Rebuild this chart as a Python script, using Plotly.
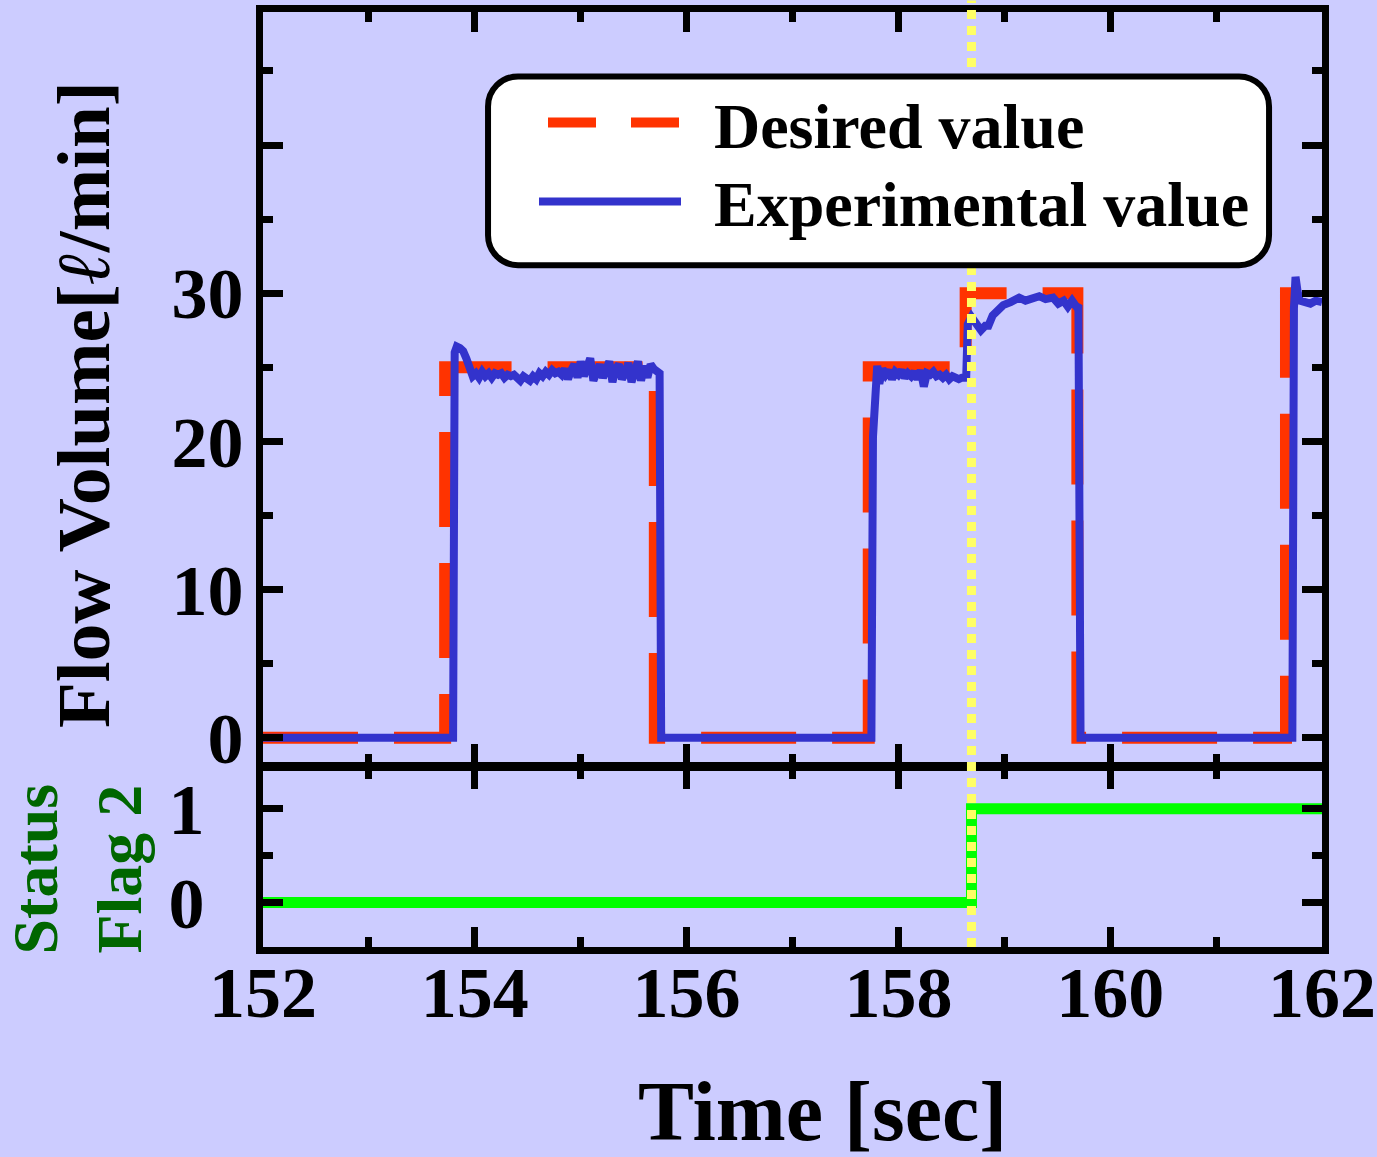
import plotly.graph_objects as go

# ---- data -------------------------------------------------------------
# Desired flow set-point (step profile)
desired_time = [152.00, 153.72, 153.72, 155.70, 155.70, 157.72, 157.72,
                158.635, 158.635, 159.69, 159.69, 161.66, 161.66, 162.00]
desired_flow = [0, 0, 25, 25, 0, 0, 25, 25, 30, 30, 0, 0, 30, 30]

# Measured flow
exp_time = [
    152.00, 153.795, 153.81, 153.83, 153.86, 153.89, 153.92, 153.95,
    153.98, 154.01, 154.04, 154.07, 154.10, 154.13, 154.16, 154.19, 154.22,
    154.25, 154.28, 154.31, 154.34, 154.37, 154.40, 154.43, 154.46, 154.49,
    154.52, 154.55, 154.58, 154.61, 154.64, 154.67, 154.70, 154.73, 154.76,
    154.79, 154.82, 154.85, 154.88, 154.91, 154.94, 154.97, 155.00, 155.03,
    155.06, 155.09, 155.12, 155.15, 155.18, 155.21, 155.24, 155.27, 155.30,
    155.33, 155.36, 155.39, 155.42, 155.45, 155.48, 155.51, 155.54, 155.57,
    155.60, 155.63, 155.66, 155.69, 155.72, 155.745, 155.76,
    157.745, 157.76, 157.785, 157.80, 157.82, 157.85, 157.88, 157.91, 157.94,
    157.97, 158.00, 158.03, 158.06, 158.09, 158.12, 158.15, 158.18, 158.21,
    158.24, 158.27, 158.30, 158.33, 158.36, 158.39, 158.42, 158.45, 158.48,
    158.51, 158.54, 158.57, 158.60, 158.64, 158.655, 158.69, 158.73, 158.78,
    158.82, 158.85, 158.89, 158.95, 158.99, 159.06, 159.14, 159.20, 159.27,
    159.33, 159.39, 159.46, 159.51, 159.56, 159.60, 159.64, 159.68, 159.70,
    159.72,
    161.72, 161.735, 161.75, 161.77, 161.79, 161.84, 161.89, 161.94, 161.97,
    162.00,
]
exp_flow = [
    0, 0, 26.0, 26.4, 26.3, 26.1, 25.6, 25.0,
    24.4, 24.6, 24.3, 24.7, 24.4, 24.6, 24.3, 24.6, 24.5,
    24.6, 24.3, 24.5, 24.4, 24.5, 24.2, 24.1, 24.4, 24.3,
    24.1, 24.4, 24.2, 24.6, 24.4, 24.7, 24.5, 24.8, 24.6,
    24.7, 24.5, 24.9, 24.2, 24.8, 25.2, 24.3, 25.4, 24.4,
    24.9, 25.6, 24.1, 24.7, 25.2, 24.3, 24.8, 25.4, 24.0,
    24.9, 25.2, 24.2, 24.6, 25.3, 24.0, 24.9, 25.4, 24.1,
    25.1, 24.3, 25.2, 24.9, 24.8, 24.6, 0,
    0, 20.3, 24.5, 25.1, 23.9, 24.9, 24.5, 24.8, 24.2,
    24.7, 24.5, 24.8, 24.3, 24.6, 24.4, 24.7, 24.2, 24.8,
    23.7, 24.6, 24.5, 24.7, 24.4, 24.5, 24.3, 24.5, 24.2,
    24.4, 24.3, 24.2, 24.3, 24.3, 27.9, 28.4, 28.0, 27.5,
    27.8, 27.8, 28.5, 28.9, 29.2, 29.4, 29.7, 29.5, 29.7,
    29.8, 29.6, 29.7, 29.3, 29.5, 29.1, 29.5, 29.1, 29.2,
    0,
    0, 29.0, 31.1, 30.1, 29.5, 29.4, 29.3, 29.5, 29.4,
    29.4,
]

# Status flag 2
flag_time = [152.00, 158.69, 158.69, 162.00]
flag_value = [0, 0, 1, 1]

event_time = 158.69

x_ticks = [152, 154, 156, 158, 160, 162]
flow_ticks = [0, 10, 20, 30, 40]
flow_ticktext = ["0", "10", "20", "30", ""]
flag_ticks = [0, 1]

# ---- styling ----------------------------------------------------------
BG = "#ccccff"
RED = "#ff3300"
BLUE = "#3333cc"
GREEN = "#00ff00"
DARK_GREEN = "#006600"
FONT = "Liberation Serif"

fig = go.Figure()

fig.add_trace(go.Scatter(
    x=desired_time, y=desired_flow, mode="lines", name="Desired value",
    line=dict(color=RED, width=12, dash="95px,36px"),
    showlegend=False, xaxis="x", yaxis="y",
))
fig.add_trace(go.Scatter(
    x=exp_time, y=exp_flow, mode="lines", name="Experimental value",
    line=dict(color=BLUE, width=8),
    showlegend=False, xaxis="x", yaxis="y",
))
# legend entries (one legend box per row)
fig.add_trace(go.Scatter(
    x=[None], y=[None], mode="lines", name="Desired value",
    line=dict(color=RED, width=12, dash="0px,9px,48px,35px,48px,300px"),
    xaxis="x", yaxis="y", legend="legend",
))
fig.add_trace(go.Scatter(
    x=[None], y=[None], mode="lines", name="Experimental value",
    line=dict(color=BLUE, width=8, dash="142px,300px"),
    xaxis="x", yaxis="y", legend="legend2",
))
fig.add_trace(go.Scatter(
    x=flag_time, y=flag_value, mode="lines", name="Status Flag 2",
    line=dict(color=GREEN, width=11), showlegend=False,
    xaxis="x2", yaxis="y2",
))

tick_font = dict(family=FONT, size=72, color="black", weight="bold")

axis_common = dict(
    showline=True, linewidth=7, linecolor="black", mirror="ticks",
    ticks="inside", ticklen=20, tickwidth=7, tickcolor="black",
    showgrid=False, zeroline=False, automargin=False,
)

legend_common = dict(
    xanchor="left", yanchor="top",
    bgcolor="rgba(0,0,0,0)", borderwidth=0,
    font=dict(family=FONT, size=64, color="black", weight="bold"),
    itemwidth=170,
)

fig.update_layout(
    width=1377, height=1157,
    margin=dict(l=263, r=55, t=11.5, b=209.5, autoexpand=False),
    paper_bgcolor=BG, plot_bgcolor=BG,
    xaxis=dict(
        domain=[0, 1], anchor="y", range=[152, 162],
        tickvals=x_ticks, showticklabels=False,
        minor=dict(dtick=1, tick0=152, ticks="inside", ticklen=10,
                   tickwidth=7, tickcolor="black"),
        **axis_common,
    ),
    yaxis=dict(
        domain=[0.19605, 1], anchor="x", range=[-1.75, 48.98],
        tickvals=flow_ticks, ticktext=flow_ticktext, tickfont=tick_font,
        ticklabelstandoff=-2,
        minor=dict(dtick=5, tick0=0, ticks="inside", ticklen=10,
                   tickwidth=7, tickcolor="black"),
        **axis_common,
    ),
    xaxis2=dict(
        domain=[0, 1], anchor="y2", range=[152, 162], matches="x",
        tickvals=x_ticks, tickfont=tick_font, ticklabelstandoff=-23,
        minor=dict(dtick=1, tick0=152, ticks="inside", ticklen=10,
                   tickwidth=7, tickcolor="black"),
        **axis_common,
    ),
    yaxis2=dict(
        domain=[0, 0.1907], anchor="x2", range=[-0.473, 1.4255],
        tickvals=flag_ticks, tickfont=tick_font, ticklabelstandoff=37,
        minor=dict(dtick=0.5, tick0=0, ticks="inside", ticklen=10,
                   tickwidth=7, tickcolor="black"),
        **axis_common,
    ),
    legend=dict(x=0.2559, y=0.9332, **legend_common),
    legend2=dict(x=0.2559, y=0.8489, **legend_common),
    showlegend=True,
)

# event marker across both panels
fig.add_shape(
    type="line", xref="x", yref="paper", x0=event_time, x1=event_time,
    y0=0, y1=1.0123, layer="above",
    line=dict(color="#ffff66", width=9, dash="9px,7px"),
)

# rounded legend frame
x0, x1, y0, y1 = 0.2125, 0.9500, 0.7292, 0.9311
rx, ry = 30 / 1059, 30 / 936
k = 0.5523
path = (
    f"M{x0 + rx},{y1} L{x1 - rx},{y1} "
    f"C{x1 - rx + k * rx},{y1} {x1},{y1 - ry + k * ry} {x1},{y1 - ry} "
    f"L{x1},{y0 + ry} "
    f"C{x1},{y0 + ry - k * ry} {x1 - rx + k * rx},{y0} {x1 - rx},{y0} "
    f"L{x0 + rx},{y0} "
    f"C{x0 + rx - k * rx},{y0} {x0},{y0 + ry - k * ry} {x0},{y0 + ry} "
    f"L{x0},{y1 - ry} "
    f"C{x0},{y1 - ry + k * ry} {x0 + rx - k * rx},{y1} {x0 + rx},{y1} Z"
)
fig.add_shape(
    type="path", xref="paper", yref="paper", path=path, layer="above",
    fillcolor="white", line=dict(color="black", width=6),
)

fig.add_annotation(
    text="Flow Volume[<i>ℓ</i>/min]", textangle=-90,
    xref="paper", yref="paper", x=-0.170, y=0.5807,
    xanchor="center", yanchor="middle", showarrow=False,
    font=dict(family=FONT, size=75, color="black", weight="bold"),
)
fig.add_annotation(
    text="Status<br>Flag 2", textangle=-90,
    xref="paper", yref="paper", x=-0.1757, y=0.0839,
    xanchor="center", yanchor="middle", showarrow=False,
    font=dict(family=FONT, size=64, color=DARK_GREEN, weight="bold"),
)
fig.add_annotation(
    text="Time [sec]",
    xref="paper", yref="paper", x=0.5279, y=-0.1757,
    xanchor="center", yanchor="middle", showarrow=False,
    font=dict(family=FONT, size=84, color="black", weight="bold"),
)

fig.write_html("out.html")
